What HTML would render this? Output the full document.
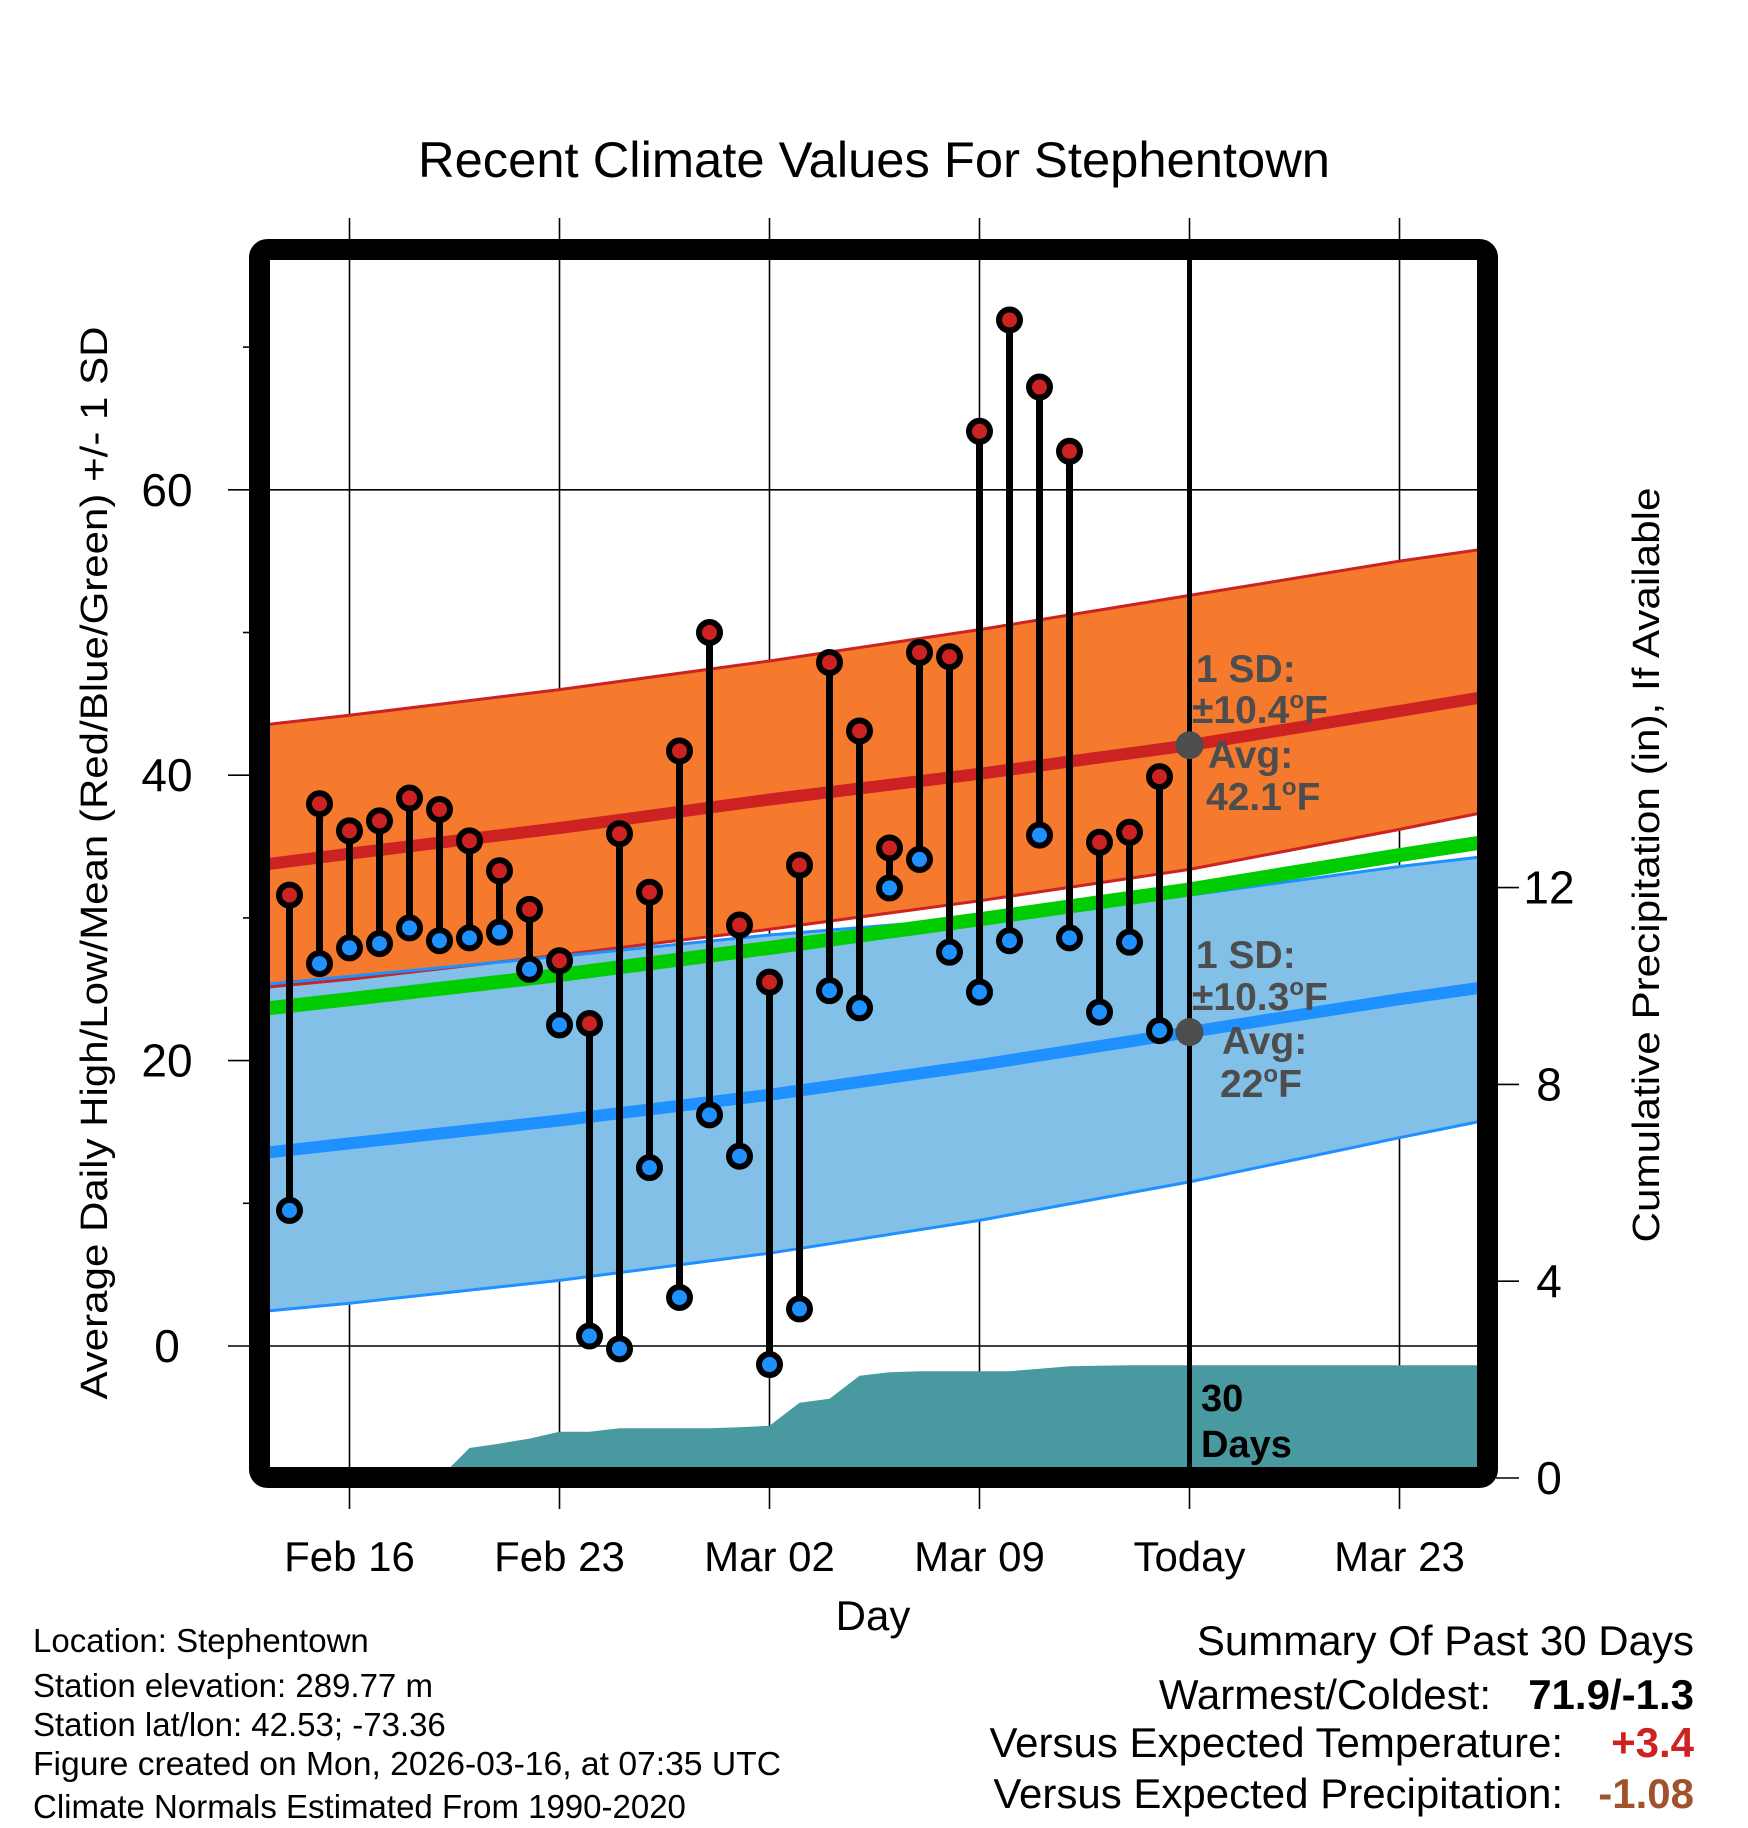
<!DOCTYPE html>
<html><head><meta charset="utf-8"><style>
html,body{margin:0;padding:0;background:#fff}
svg{display:block}
text{font-family:"Liberation Sans",Arial,sans-serif}
</style></head><body>
<svg id="chart" width="1748" height="1828" viewBox="0 0 1748 1828" xmlns="http://www.w3.org/2000/svg">
<defs><clipPath id="plotclip"><rect x="270" y="260" width="1208" height="1208"/></clipPath></defs>
<g id="grid"></g>
<g id="plot" clip-path="url(#plotclip)"></g>
<g id="marks"></g>
<rect x="259.5" y="249.5" width="1228" height="1228" rx="8" fill="none" stroke="#000" stroke-width="21"/>
<g id="axes"></g>
<text x="874" y="177" font-size="50" text-anchor="middle" textLength="912" lengthAdjust="spacingAndGlyphs">Recent Climate Values For Stephentown</text>
<text transform="translate(107,863) rotate(-90)" font-size="38" text-anchor="middle" textLength="1073" lengthAdjust="spacingAndGlyphs">Average Daily High/Low/Mean (Red/Blue/Green) +/- 1 SD</text>
<text transform="translate(1659,865) rotate(-90)" font-size="38" text-anchor="middle" textLength="755" lengthAdjust="spacingAndGlyphs">Cumulative Precipitation (in), If Available</text>
<text x="873" y="1630" font-size="42" text-anchor="middle">Day</text>
<g font-weight="bold" font-size="39" fill="#4d4d4d">
<text x="1196" y="682">1 SD:</text>
<text x="1192" y="723">±10.4<tspan font-size="24" dy="-15">o</tspan><tspan dy="15">F</tspan></text>
<text x="1208" y="768">Avg:</text>
<text x="1206" y="810">42.1<tspan font-size="24" dy="-15">o</tspan><tspan dy="15">F</tspan></text>
</g>
<g font-weight="bold" font-size="39" fill="#4d4d4d">
<text x="1196" y="968">1 SD:</text>
<text x="1192" y="1010">±10.3<tspan font-size="24" dy="-15">o</tspan><tspan dy="15">F</tspan></text>
<text x="1222" y="1054">Avg:</text>
<text x="1220" y="1097">22<tspan font-size="24" dy="-15">o</tspan><tspan dy="15">F</tspan></text>
</g>
<g font-weight="bold" font-size="38" fill="#000">
<text x="1201" y="1411">30</text>
<text x="1201" y="1457">Days</text>
</g>
<g font-size="33" fill="#000">
<text x="33" y="1652">Location: Stephentown</text>
<text x="33" y="1697">Station elevation: 289.77 m</text>
<text x="33" y="1736">Station lat/lon: 42.53; -73.36</text>
<text x="33" y="1775" textLength="748" lengthAdjust="spacingAndGlyphs">Figure created on Mon, 2026-03-16, at 07:35 UTC</text>
<text x="33" y="1818">Climate Normals Estimated From 1990-2020</text>
</g>
<g font-size="42" fill="#000" text-anchor="end">
<text x="1694" y="1655">Summary Of Past 30 Days</text>
<text x="1491" y="1709">Warmest/Coldest:</text>
<text x="1694" y="1709" font-weight="bold">71.9/-1.3</text>
<text x="1563" y="1757">Versus Expected Temperature:</text>
<text x="1694" y="1757" font-weight="bold" fill="#cc2222">+3.4</text>
<text x="1563" y="1808">Versus Expected Precipitation:</text>
<text x="1694" y="1808" font-weight="bold" fill="#a0522d">-1.08</text>
</g>
</svg>
<script>
// day offsets relative to Feb 16
const obsDays = [-2,-1,0,1,2,3,4,5,6,7,8,9,10,11,12,13,14,15,16,17,18,19,20,21,22,23,24,25,26,27];
const highs = [31.6,38.0,36.1,36.8,38.4,37.6,35.4,33.3,30.6,27.0,22.6,35.9,31.8,41.7,50.0,29.5,25.5,33.7,47.9,43.1,34.9,48.6,48.3,64.1,71.9,67.2,62.7,35.3,36.0,39.9];
const lows = [9.5,26.8,27.9,28.2,29.3,28.4,28.6,29.0,26.4,22.5,0.7,-0.2,12.5,3.4,16.2,13.3,-1.3,2.6,24.9,23.7,32.1,34.1,27.6,24.8,28.4,35.8,28.6,23.4,28.3,22.1];
const normDays = [-3,0,7,14,21,28,35,39];
const normHigh = [33.7,34.5,36.3,38.3,40.1,42.1,44.5,45.9];
const normHighUpper = [43.5,44.2,46.0,48.0,50.2,52.6,55.0,56.2];
const normHighLower = [25.1,25.7,27.4,29.2,31.2,33.4,36.2,37.9];
const normLow = [13.5,14.2,15.8,17.6,19.7,22.0,24.3,25.5];
const normLowUpper = [25.3,25.9,27.3,28.8,30.0,31.6,33.6,34.6];
const normLowLower = [2.4,3.0,4.6,6.5,8.8,11.5,14.6,16.3];
const normMean = [23.6,24.3,26.0,27.9,29.9,32.0,34.4,35.7];
const precipDays = [3,4,5,6,7,8,9,10,11,12,13,14,15,16,17,18,19,20,21,22,23,24,25,26,27,28,39];
const precipCum = [0,0.61,0.70,0.80,0.94,0.94,1.01,1.01,1.01,1.01,1.03,1.06,1.53,1.61,2.08,2.15,2.17,2.17,2.17,2.17,2.22,2.27,2.28,2.29,2.29,2.29,2.29];
const xTickDays = [0,7,14,21,28,35];
const xTickLabels = ["Feb 16","Feb 23","Mar 02","Mar 09","Today","Mar 23"];
const yTicks = [0,20,40,60];
const yMinor = [10,30,50,70];
const y2Ticks = [0,4,8,12];
const todayDay = 28;
const todayHigh = 42.1, todayLow = 22.0;

const NS="http://www.w3.org/2000/svg";
const X = d => 349.5 + d*30;
const Y = t => 1346 - t*14.27;
const Y2 = p => 1478 - p*49.2;
function mk(tag, attrs, parent){const e=document.createElementNS(NS,tag);for(const k in attrs)e.setAttribute(k,attrs[k]);parent.appendChild(e);return e;}
const grid=document.getElementById('grid'), plot=document.getElementById('plot'), marks=document.getElementById('marks'), axes=document.getElementById('axes');

xTickDays.forEach((d,i)=>{
  const l=mk('line',{x1:X(d),x2:X(d),y1:218,y2:1509,stroke:'#000','stroke-width':1.6},grid);
  
  
  const t=mk('text',{x:X(d),y:1571,'font-size':42,'text-anchor':'middle'},axes);
  t.textContent=xTickLabels[i];
  
  
});
yTicks.forEach(v=>{
  const l=mk('line',{x1:228,x2:1478,y1:Y(v),y2:Y(v),stroke:'#000','stroke-width':1.6},grid);
  
  
  const t=mk('text',{x:167,y:Y(v)+16,'font-size':46,'text-anchor':'middle'},axes);
  t.textContent=v;
  
  
});
yMinor.forEach(v=>{
  const l=mk('line',{x1:243,x2:252,y1:Y(v),y2:Y(v),stroke:'#000','stroke-width':1.6},axes);
  
  
});
y2Ticks.forEach(v=>{
  const l=mk('line',{x1:1496,x2:1519,y1:Y2(v),y2:Y2(v),stroke:'#000','stroke-width':1.6},axes);
  
  
  const t=mk('text',{x:1549,y:Y2(v)+16,'font-size':46,'text-anchor':'middle'},axes);
  t.textContent=v;
  
  
});

function pts(days, vals){return days.map((d,i)=>X(d).toFixed(1)+','+Y(vals[i]).toFixed(1));}
function band(up, lo, fill, name){
  const p=pts(normDays,up).concat(pts(normDays,lo).reverse());
  const e=mk('polygon',{points:p.join(' '),fill:fill},plot);
  
  
}
function line(vals, color, w, name){
  const e=mk('polyline',{points:pts(normDays,vals).join(' '),fill:'none',stroke:color,'stroke-width':w,'stroke-linejoin':'round'},plot);
  
  
}
band(normHighUpper,normHighLower,'#f57a2e','high-sd-band');
band(normLowUpper,normLowLower,'#82c0e8','low-sd-band');
line(normHighUpper,'#cc2222',3,'high-upper-edge');
line(normHighLower,'#cc2222',3,'high-lower-edge');
line(normLowUpper,'#1e90ff',3,'low-upper-edge');
line(normLowLower,'#1e90ff',3,'low-lower-edge');
line(normMean,'#00cc00',14,'normal-mean-line');
line(normHigh,'#cc2222',12,'normal-high-line');
line(normLow,'#1e90ff',12,'normal-low-line');

const pp=[X(precipDays[0])+','+1500];
precipDays.forEach((d,i)=>pp.push(X(d).toFixed(1)+','+Y2(precipCum[i]).toFixed(1)));
pp.push(X(precipDays[precipDays.length-1])+','+1500);
const pe=mk('polygon',{points:pp.join(' '),fill:'#4899a0'},plot);



const tl=mk('line',{x1:X(todayDay),x2:X(todayDay),y1:260,y2:1468,stroke:'#000','stroke-width':5},plot);



obsDays.forEach((d,i)=>{
  const s=mk('line',{x1:X(d),x2:X(d),y1:Y(highs[i]),y2:Y(lows[i]),stroke:'#000','stroke-width':7},marks);
  
  
});
obsDays.forEach((d,i)=>{
  const h=mk('circle',{cx:X(d),cy:Y(highs[i]),r:10.5,fill:'#cc2222',stroke:'#000','stroke-width':6},marks);
  
  
  const l=mk('circle',{cx:X(d),cy:Y(lows[i]),r:10.5,fill:'#1e90ff',stroke:'#000','stroke-width':6},marks);
  
  
});
const g1=mk('circle',{cx:X(todayDay),cy:Y(todayHigh),r:14,fill:'#4d4d4d'},marks);


const g2=mk('circle',{cx:X(todayDay),cy:Y(todayLow),r:14,fill:'#4d4d4d'},marks);


</script>
</body></html>
